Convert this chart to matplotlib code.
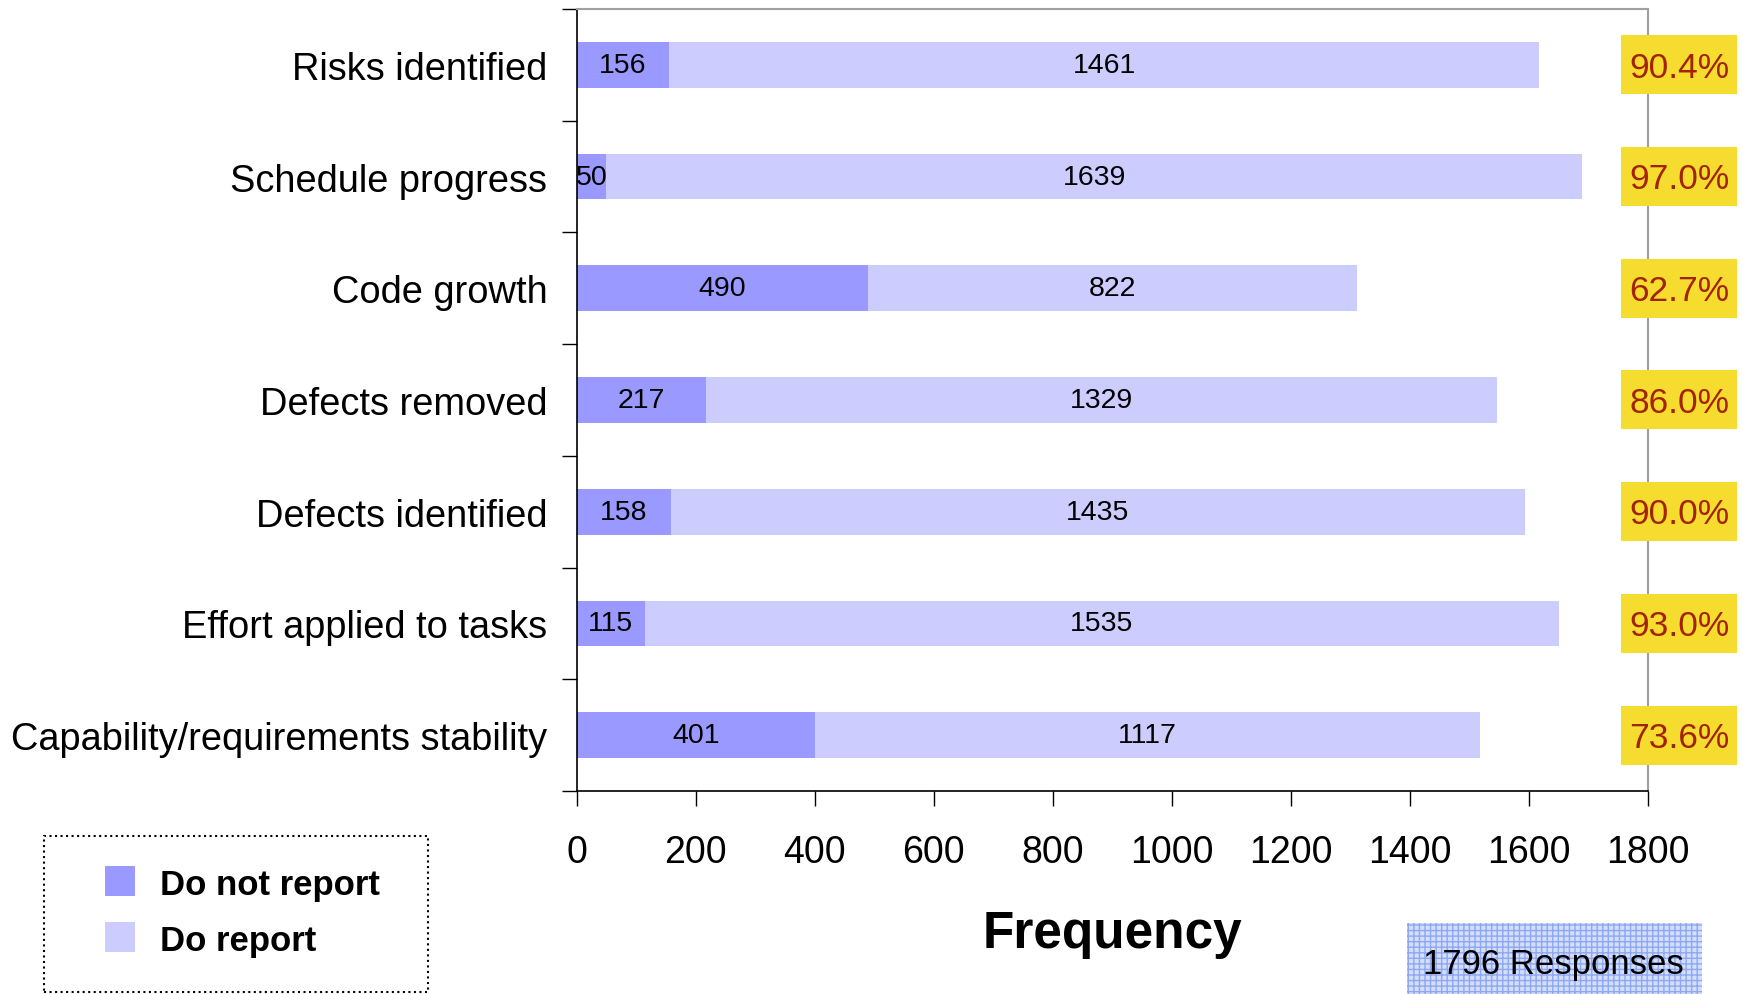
import matplotlib
matplotlib.use("Agg")
import matplotlib.pyplot as plt
from matplotlib.patches import Rectangle
from matplotlib.transforms import blended_transform_factory

plt.rcParams['font.family'] = ['Liberation Sans', 'DejaVu Sans']

# survey results, top row first
categories = ['Risks identified', 'Schedule progress', 'Code growth',
              'Defects removed', 'Defects identified',
              'Effort applied to tasks', 'Capability/requirements stability']
do_not_report = [156, 50, 490, 217, 158, 115, 401]
do_report = [1461, 1639, 822, 1329, 1435, 1535, 1117]
pct_labels = ['90.4%', '97.0%', '62.7%', '86.0%', '90.0%', '93.0%', '73.6%']
series_names = ['Do not report', 'Do report']
responses = 1796

c_not = '#9999FF'
c_rep = '#CCCCFF'

fig = plt.figure(figsize=(17.42, 9.95), dpi=100)
ax = fig.add_axes([0.331, 0.204, 0.615, 0.786])

y = list(range(len(categories)))
ax.barh(y, do_not_report, height=0.41, color=c_not)
ax.barh(y, do_report, left=do_not_report, height=0.41, color=c_rep)

for i in y:
    ax.text(do_not_report[i] / 2, i, str(do_not_report[i]), ha='center', va='center', fontsize=20.5)
    ax.text(do_not_report[i] + do_report[i] / 2, i, str(do_report[i]),
            ha='center', va='center', fontsize=20.5)

ax.set_xlim(0, 1800)
ax.set_ylim(len(categories) - 0.5, -0.5)
ax.set_xticks(range(0, 1801, 200))
ax.set_yticks(y)
ax.set_yticklabels(categories)
ax.set_yticks([v - 0.5 for v in range(len(categories) + 1)], minor=True)
ax.tick_params(axis='y', which='major', length=0, pad=21, labelsize=27.4)
ax.tick_params(axis='y', which='minor', length=11, width=1)
ax.tick_params(axis='x', length=11, width=1, pad=20, labelsize=27)

for s in ['top', 'right']:
    ax.spines[s].set_color('#A0A0A0')
    ax.spines[s].set_linewidth(1.5)
for s in ['left', 'bottom']:
    ax.spines[s].set_color('black')
    ax.spines[s].set_linewidth(1.2)

ax.set_xlabel('Frequency', fontsize=37, fontweight='bold', labelpad=28)

# percentage boxes to the right of the bars, in front of the right spine
tr = blended_transform_factory(ax.transAxes, ax.transData)
for i in y:
    ax.add_patch(Rectangle((0.975, i - 0.264), 0.108, 0.528, transform=tr,
                           facecolor='#F5DC2E', edgecolor='none', clip_on=False, zorder=5))
    ax.text(1.029, i + 0.02, pct_labels[i], transform=tr, ha='center', va='center',
            fontsize=25.5, color='#A32300', zorder=6)

# legend box with dotted frame
fig.patches.append(Rectangle((0.0253, 0.002), 0.2204, 0.1568, transform=fig.transFigure,
                             facecolor='white', edgecolor='black', linestyle=':',
                             linewidth=1.5))
for name, col, yc in zip(series_names, [c_not, c_rep], [0.1136, 0.0573]):
    fig.patches.append(Rectangle((0.0603, yc - 0.0151), 0.0172, 0.0302,
                                 transform=fig.transFigure, facecolor=col, edgecolor='none'))
    fig.text(0.0918, yc - 0.004, name, ha='left', va='center', fontsize=25, fontweight='bold')

# response count box
fig.patches.append(Rectangle((0.8077, 0.0), 0.1693, 0.0714, transform=fig.transFigure,
                             facecolor='#D3DDFC', edgecolor='#8FA8F2', hatch='+++',
                             linewidth=0, zorder=0))
fig.text(0.8917, 0.031, '%d Responses' % responses, ha='center', va='center', fontsize=25)

fig.savefig('out.png', dpi=100)
